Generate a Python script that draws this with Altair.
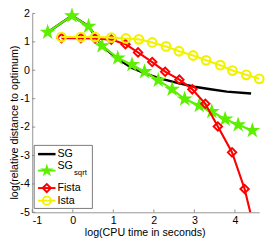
import altair as alt
import pandas as pd

# ---- data ----
sg_x = [-0.62, -0.02, 0.39, 0.72, 1.11, 1.46, 1.77, 2.10, 2.60, 3.00, 3.40, 3.80, 4.40]
sg_y = [1.34, 1.92, 1.55, 0.86, 0.40, 0.08, -0.10, -0.27, -0.45, -0.58, -0.67, -0.75, -0.82]

sqrt_x = [-0.62, -0.02, 0.39, 0.72, 1.11, 1.46, 1.77, 2.11, 2.45, 2.76, 3.12, 3.43, 3.76, 4.08, 4.43]
sqrt_y = [1.34, 1.92, 1.55, 0.86, 0.43, 0.20, -0.05, -0.35, -0.67, -1.01, -1.24, -1.45, -1.72, -1.92, -2.12]

fista_x = [-0.28, 0.20, 0.55, 0.95, 1.30, 1.61, 1.96, 2.28, 2.63, 2.95, 3.27, 3.58, 3.93, 4.24, 4.55]
fista_y = [1.13, 1.13, 1.12, 1.08, 0.92, 0.63, 0.29, -0.05, -0.33, -0.67, -1.18, -1.98, -2.89, -4.18, -6.00]

ista_x = [-0.28, 0.20, 0.55, 0.95, 1.31, 1.63, 1.96, 2.30, 2.62, 2.97, 3.29, 3.64, 3.94, 4.28, 4.60]
ista_y = [1.17, 1.17, 1.17, 1.15, 1.12, 1.09, 0.98, 0.84, 0.67, 0.52, 0.35, 0.18, -0.01, -0.16, -0.30]

x_ticks = [-1, 0, 1, 2, 3, 4]
y_ticks = [-5, -4, -3, -2, -1, 0, 1, 2]

GREEN = "#5cf000"
YELLOW = "#f2f200"
RED = "#ff0000"
FONT = "Liberation Sans"
STAR = ("M0,-1L0.2245,-0.309L0.9511,-0.309L0.3633,0.118L0.5878,0.809L0,0.382"
        "L-0.5878,0.809L-0.3633,0.118L-0.9511,-0.309L-0.2245,-0.309Z")

xs = alt.Scale(domain=[-1, 4.6], nice=False, zero=False)
ys = alt.Scale(domain=[-5, 2], nice=False, zero=False)

xaxis = alt.Axis(
    values=x_ticks, title="log(CPU time in seconds)", grid=False, tickSize=0, orient="bottom",
    labelPadding=3, labelExpr="datum.value + ''", titleY=21, titleBaseline="middle",
    titleX=116)
yaxis = alt.Axis(
    values=y_ticks, title="log(relative distance to optimum)", grid=False, tickSize=0, orient="left",
    labelPadding=3, labelExpr="datum.value + ''", titleX=-18.5, titleY=112,
    titleAngle=270, titleAlign="center", titleBaseline="middle")

xenc = alt.X("x:Q", scale=xs, axis=xaxis)
yenc = alt.Y("y:Q", scale=ys, axis=yaxis)


def df(x, y):
    return pd.DataFrame({"x": x, "y": y})


d_sg = df(sg_x, sg_y)
d_sqrt = df(sqrt_x, sqrt_y)
d_fista = df(fista_x, fista_y)
d_ista = df(ista_x, ista_y)

sg_line = alt.Chart(d_sg).mark_line(color="black", strokeWidth=2.5).encode(x=xenc, y=yenc)
sqrt_line = alt.Chart(d_sqrt).mark_line(color=GREEN, strokeWidth=2.2).encode(x=xenc, y=yenc)
sqrt_pts = alt.Chart(d_sqrt).mark_point(shape=STAR, filled=True, color=GREEN, size=300, opacity=1).encode(x=xenc, y=yenc)
fista_line = alt.Chart(d_fista).mark_line(color=RED, strokeWidth=2.2, clip=True).encode(x=xenc, y=yenc)
fista_pts = alt.Chart(d_fista).mark_point(shape="diamond", filled=False, color=RED, size=75, strokeWidth=2, clip=True, opacity=1).encode(x=xenc, y=yenc)
ista_line = alt.Chart(d_ista).mark_line(color=YELLOW, strokeWidth=2.2).encode(x=xenc, y=yenc)
ista_pts = alt.Chart(d_ista).mark_point(shape="circle", filled=False, color=YELLOW, size=80, strokeWidth=2.2, opacity=1).encode(x=xenc, y=yenc)

# inward ticks
xt = alt.Chart(pd.DataFrame({"x": x_ticks})).mark_rule(color="#777", strokeWidth=0.8).encode(
    x=xenc, y=alt.value(205), y2=alt.value(202))
yt = alt.Chart(pd.DataFrame({"y": y_ticks})).mark_rule(color="#777", strokeWidth=0.8).encode(
    y=yenc, x=alt.value(0), x2=alt.value(3))

# custom legend
one = pd.DataFrame({"a": [0]})
L = alt.Chart(one)
leg = [
    L.mark_rect(fill="white", stroke="#555", strokeWidth=0.8).encode(
        x=alt.value(2), x2=alt.value(62), y=alt.value(136), y2=alt.value(201)),
    L.mark_rule(color="black", strokeWidth=2.5).encode(x=alt.value(6), x2=alt.value(24), y=alt.value(145)),
    L.mark_rule(color=GREEN, strokeWidth=2).encode(x=alt.value(6), x2=alt.value(24), y=alt.value(162)),
    L.mark_point(shape=STAR, filled=True, color=GREEN, size=210, opacity=1).encode(x=alt.value(15), y=alt.value(162)),
    L.mark_rule(color=RED, strokeWidth=2).encode(x=alt.value(6), x2=alt.value(24), y=alt.value(180)),
    L.mark_point(shape="diamond", filled=False, color=RED, size=70, strokeWidth=2, opacity=1).encode(x=alt.value(15), y=alt.value(180)),
    L.mark_rule(color=YELLOW, strokeWidth=2).encode(x=alt.value(6), x2=alt.value(24), y=alt.value(193)),
    L.mark_point(shape="circle", filled=False, color=YELLOW, size=70, strokeWidth=2, opacity=1).encode(x=alt.value(15), y=alt.value(193)),
    L.mark_text(text="SG", align="left", baseline="middle", font=FONT, fontSize=11).encode(x=alt.value(26), y=alt.value(145)),
    L.mark_text(text="SG", align="left", baseline="middle", font=FONT, fontSize=11).encode(x=alt.value(26), y=alt.value(157)),
    L.mark_text(text="sqrt", align="left", baseline="middle", font=FONT, fontSize=8).encode(x=alt.value(43), y=alt.value(165)),
    L.mark_text(text="Fista", align="left", baseline="middle", font=FONT, fontSize=11).encode(x=alt.value(26), y=alt.value(180)),
    L.mark_text(text="Ista", align="left", baseline="middle", font=FONT, fontSize=11).encode(x=alt.value(26), y=alt.value(193)),
]

chart = alt.layer(
    sg_line, xt, yt, sqrt_line, sqrt_pts, fista_line, fista_pts, ista_line, ista_pts, *leg
).properties(
    width=234, height=205,
    autosize=alt.AutoSizeParams(type="none"),
    padding={"left": 25, "top": 2, "right": 7, "bottom": 28},
).configure_view(
    stroke=None
).configure_axis(
    domainColor="#777", domainWidth=0.8,
    labelFont=FONT, labelFontSize=11, labelColor="black",
    titleFont=FONT, titleFontSize=11, titleFontWeight="normal", titleColor="black",
)

chart.save("out.html", embed_options={"renderer": "svg", "actions": False})
